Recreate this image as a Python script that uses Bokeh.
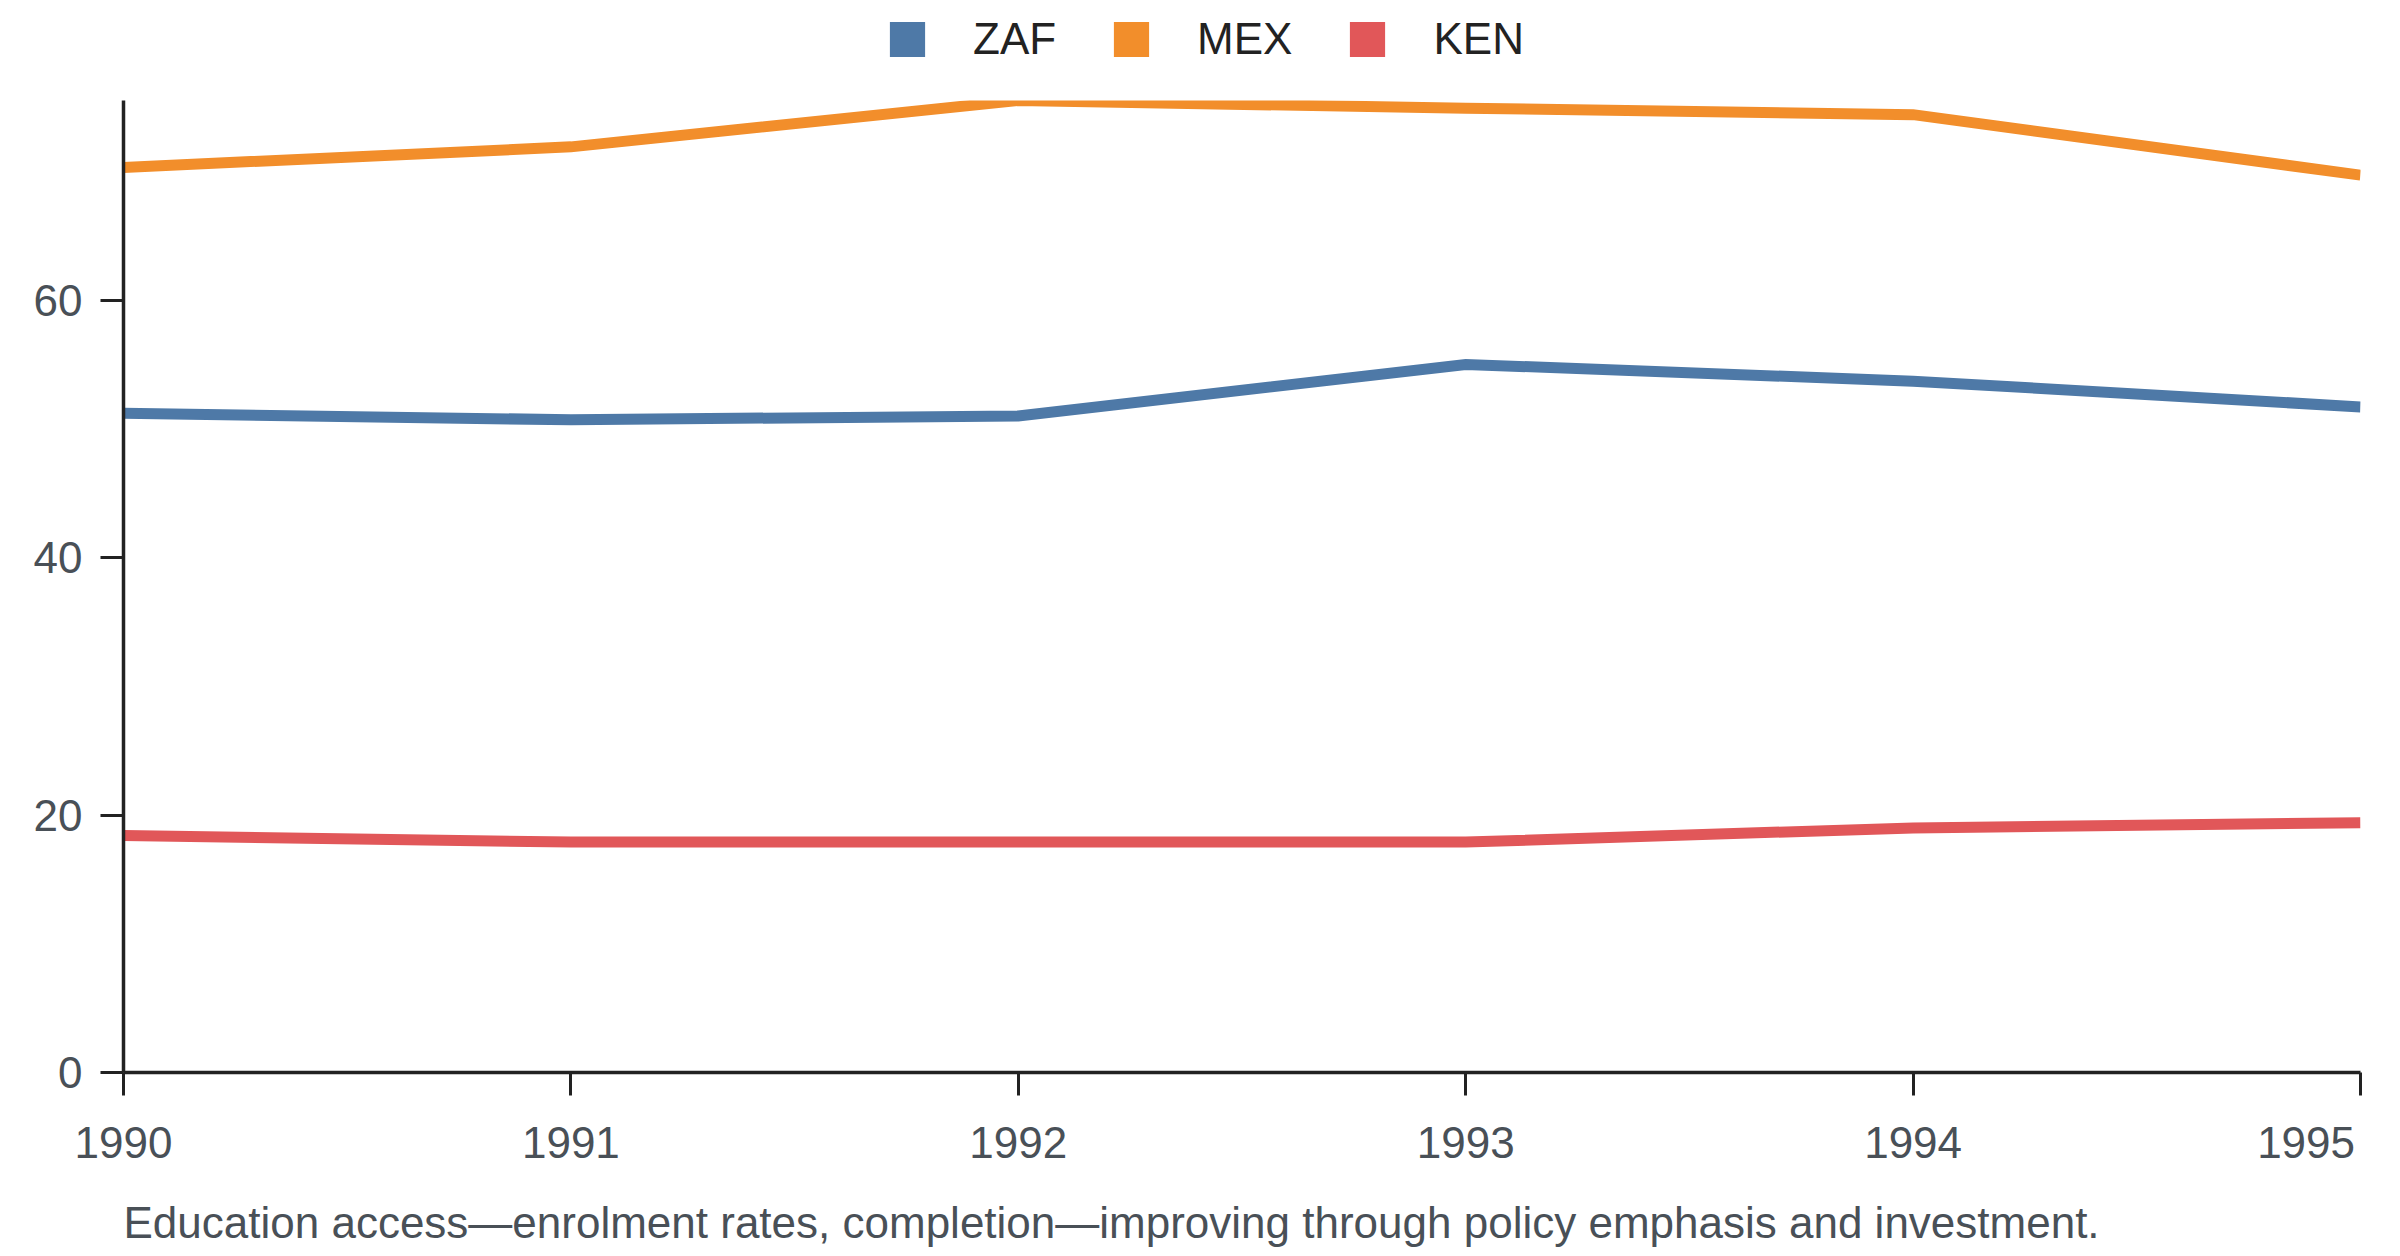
from bokeh.plotting import figure
from bokeh.models import Range1d, FixedTicker, Legend, LegendItem, Label
from bokeh.layouts import column
from bokeh.embed import file_html
from bokeh.resources import INLINE

years = [1990, 1991, 1992, 1993, 1994, 1995]
zaf = [51.2, 50.7, 51.0, 55.0, 53.7, 51.7]
mex = [70.3, 71.9, 75.5, 74.9, 74.4, 69.7]
ken = [18.4, 17.9, 17.9, 17.9, 19.0, 19.4]
series_names = ["ZAF", "MEX", "KEN"]
series_values = [zaf, mex, ken]
colors = ["#4e79a7", "#f28e2b", "#e15759"]
y_ticks = [0, 20, 40, 60]
caption = "Education access\u2014enrolment rates, completion\u2014improving through policy emphasis and investment."

FONT = "Liberation Sans"
AXIS_COLOR = "#222222"
LABEL_COLOR = "#495057"
FS = "44px"

ymax = max(max(v) for v in series_values)


def strip(height):
    f = figure(width=2400, height=height, output_backend="svg", toolbar_location=None,
               x_axis_type=None, y_axis_type=None, min_border=0,
               x_range=Range1d(0, 1), y_range=Range1d(0, 1))
    f.outline_line_color = None
    f.grid.visible = False
    return f


# legend strip above the plot
leg = strip(100)
items = []
for name, vals, c in zip(series_names, series_values, colors):
    proxy = leg.rect(x=years, y=vals, width=0, height=0, fill_color=c,
                     line_color=None, visible=False)
    items.append(LegendItem(label=name, renderers=[proxy]))

legend = Legend(items=items, orientation="horizontal", location=(762, 36),
                glyph_width=44, glyph_height=44, label_standoff=44, spacing=53,
                padding=0, margin=0, border_line_alpha=0, background_fill_alpha=0,
                label_text_font=FONT, label_text_font_size=FS,
                label_text_color="#222222", click_policy="none")
leg.add_layout(legend)

# main chart
p = figure(width=2400, height=1080, output_backend="svg", toolbar_location=None,
           x_range=Range1d(years[0], years[-1]), y_range=Range1d(0, ymax),
           min_border_left=123, min_border_right=40, min_border_top=0,
           min_border_bottom=108)
p.outline_line_color = None
p.xgrid.visible = False
p.ygrid.visible = False

for name, vals, c in zip(series_names, series_values, colors):
    p.line(years, vals, line_width=11, line_color=c, line_join="miter")

for ax in (p.xaxis[0], p.yaxis[0]):
    ax.axis_line_color = AXIS_COLOR
    ax.axis_line_width = 3.5
    ax.major_tick_line_color = AXIS_COLOR
    ax.major_tick_line_width = 3
    ax.major_tick_in = 0
    ax.major_tick_out = 23
    ax.minor_tick_line_color = None
    ax.major_label_text_font = FONT
    ax.major_label_text_font_size = FS
    ax.major_label_text_color = LABEL_COLOR

p.xaxis[0].ticker = FixedTicker(ticks=years)
p.xaxis[0].major_label_standoff = 22
p.xaxis[0].major_label_overrides = {years[-1]: str(years[-1]) + "\u00a0" * 3 + "\u2009"}
p.yaxis[0].ticker = FixedTicker(ticks=y_ticks)
p.yaxis[0].major_label_standoff = 18

# caption strip below the plot
cap = strip(76)
cap.add_layout(Label(x=0, y=34, x_units="screen", y_units="screen", text=caption,
                     text_font=FONT, text_font_size=FS, text_color=LABEL_COLOR,
                     text_align="left", text_baseline="alphabetic"))

page = column(leg, p, cap, spacing=0)
open("out.html", "w").write(file_html(page, INLINE))
